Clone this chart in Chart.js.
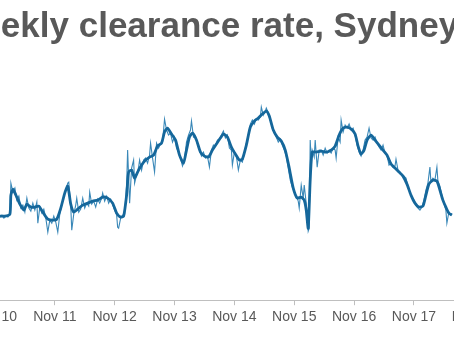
<!DOCTYPE html>
<html>
<head>
<meta charset="utf-8">
<script src="https://cdn.jsdelivr.net/npm/chart.js@4/dist/chart.umd.min.js"></script>
<style>
  html, body { margin: 0; padding: 0; background: #ffffff; overflow: hidden; width: 454px; height: 341px; }
  #wrap { position: absolute; left: -60px; top: 0; width: 560px; height: 341px; }
</style>
</head>
<body>
<div id="wrap"><canvas id="c" width="560" height="341"></canvas></div>
<script>
// Title
const titleText = 'Weekly clearance rate, Sydney';

// Tick positions (months since Nov 2010) and labels
const tickMonths = [0, 12, 24, 36, 48, 60, 72, 84, 96];
const tickLabels = ['Nov 10', 'Nov 11', 'Nov 12', 'Nov 13', 'Nov 14', 'Nov 15', 'Nov 16', 'Nov 17', 'Nov 18'];

// Weekly clearance rate (%), x = months since Nov 2010
const weeklyMonths = [1,1.4,1.8,2.2,2.6,3,3.2,3.6,4,4.4,4.8,5.2,5.6,6,6.4,6.8,7.2,7.6,8,8.4,8.6,9,9.4,9.8,10.2,10.6,11,11.4,11.8,12.2,12.6,13,13.4,13.8,14.2,14.6,14.8,15.2,15.4,15.8,16.2,16.4,16.8,17.2,17.6,18,18.4,18.8,19,19.4,19.8,20.2,20.6,21,21.4,21.6,22,22.4,22.8,23.2,23.6,24,24.4,24.6,24.8,25.2,25.6,26,26.4,26.6,27,27.4,27.8,28,28.4,28.8,29,29.4,29.8,30.2,30.6,31,31.2,31.6,32,32.4,32.8,33.2,33.6,34,34.4,34.8,35.2,35.6,36,36.4,36.8,37.2,37.6,38,38.4,38.8,39.2,39.4,39.8,40.2,40.6,41,41.4,41.8,42.2,42.6,43,43.4,43.8,44.2,44.6,45,45.4,45.8,46.2,46.6,47,47.4,47.6,48,48.4,48.8,49.2,49.6,50,50.4,50.8,51.2,51.6,52,52.4,52.8,53.2,53.4,53.8,54.2,54.4,54.8,55.2,55.6,56,56.4,56.8,57.2,57.6,58,58.4,58.8,59.2,59.6,60,60.4,60.8,61,61.4,61.8,62,62.4,62.8,63,63.2,63.4,63.6,64,64.2,64.6,65,65.4,65.8,66.2,66.6,67,67.4,67.8,68.2,68.4,68.8,69.2,69.4,69.8,70.2,70.6,71,71.4,71.8,72.2,72.6,73,73.4,73.8,74.2,74.6,75,75.4,75.8,76.2,76.6,77,77.4,77.8,78.2,78.6,79,79.4,79.8,80.2,80.4,80.8,81.2,81.6,82,82.4,82.8,83.2,83.6,84,84.4,84.8,85.2,85.6,86,86.4,86.8,87.2,87.4,87.8,88.2,88.6,88.8,89.2,89.6,90,90.4,90.6,91,91.4,91.6];
const weeklyRate = [56.6,57,56.4,56.8,56.6,57.2,63.4,61.6,62.4,60,60.8,58.4,59,57.6,60.4,58.4,57.8,59.4,58,59.6,55.4,58.6,57.4,58.2,56.4,53.6,56,55.4,56.8,55.6,53.6,57.2,59,60.8,62,63.4,63.6,58.8,54,57.2,59,60.4,57.6,58.2,60.4,58.4,59.4,58.8,61.6,59.2,59.8,58.6,60.2,59.4,60.4,61.4,59.8,60.8,59.4,60.2,59,58,57,54.6,54.4,56.4,57,57.2,63,70,59.4,66.4,68,63.4,65,66.6,68,66,68,68.4,67.4,69,71.4,68.4,65.6,71.4,70.4,71.2,71.6,76.2,74,73,73.4,71.6,72.6,70.4,69.6,68.4,66.8,68,71.6,73,74,75.8,72.6,72.8,71.2,70,68.8,69.6,68.4,68.8,66.6,70,71,70.8,72,72.2,73,73.8,72.4,73,70.4,70,67,69.6,68.8,66,68,67.6,69.4,71.4,73,75.2,76,75.2,76.2,76,76.6,78.6,77,77.8,78.4,77.4,76,74.4,73.4,72.6,71.6,72.2,71,70,68.8,66.4,64,62.6,61.6,60.8,59.8,58.4,63,60.4,63,59.4,53.8,54.4,72,68,70,68.6,72,66.6,70,70,69,70.4,69.4,70,69.4,70.4,70,68.4,72.6,71.6,76,73.6,75,74.4,75.2,74,74.4,73,71,69.6,68.8,70,72,72.6,74.4,72.4,72,72.6,71.4,70.6,70,71,69.4,69,67,67.4,66.6,66.8,68.2,66,65.6,65,64.8,64.4,62.8,61.6,60.6,60,59,58.4,58,58.6,60,62,63.4,66.6,63.6,64.4,64,66.6,63.8,62.8,61,59.4,58,55.4,57.6,57,57.4];

// Smoothed trend (%)
const trendMonths = [1,2,3,3.2,3.6,4.2,5,5.8,6.4,7.2,8,8.8,9.6,10.6,11.6,12.4,13.2,14,14.6,15.2,15.8,16.6,17.6,18.6,19.6,20.6,21.6,22.6,23.6,24.4,25.2,25.8,26.4,26.8,27.4,28,28.6,29.4,30.2,31,31.8,32.6,33.4,34,34.6,35.4,36.2,37,37.8,38.4,39,39.6,40.4,41.2,42,42.8,43.6,44.4,45.2,45.8,46.6,47.4,48.2,49,49.6,50.4,51.2,52,52.8,53.6,54.4,55,55.8,56.6,57.4,58.2,59,59.8,60.6,61.4,62,62.4,62.8,63.2,63.6,64.4,65.4,66.4,67.4,68.2,69,69.8,70.6,71.4,72.2,72.8,73.4,74,74.6,75.4,76.2,77,77.8,78.6,79.4,80.2,81,81.8,82.6,83.4,84.2,85,85.8,86.4,87,87.8,88.6,89.2,89.8,90.4,91,91.6];
const trendRate = [56.8,56.8,57.2,61,62.2,61,59.2,58,59.2,58.6,58.6,58.8,57.6,56.2,56,56.2,58.4,61.4,62.8,59.2,57.6,58.2,59,59.4,59.8,60,60.6,60.4,59.4,57.4,56.6,56.8,61,65.6,66,64.4,65.6,67,68,68.6,69,70.8,71.4,73.6,74.4,73.2,72,69,67.4,70,72.6,73.4,72,69.6,68.8,68.6,70,71.2,72.4,73.2,72.6,70.6,69.2,68,68.2,71,74.6,75.8,76.4,77.2,77.8,76.8,74,72.6,71.8,70,66.4,62.4,60.4,60.6,60,58,54.4,64,69.6,69.6,69.8,69.6,70,70.8,73,74.4,74.6,74.2,73.2,70.8,69.2,70,72,73,72,71,70,69,67.2,66.4,65.6,64.8,63.2,61,59.4,58.6,58.8,61,63.2,64,63.8,62,60,58.6,57.4,57];

const toPoints = (xs, ys) => xs.map((x, i) => ({ x: x, y: ys[i] }));

const titlePlugin = {
  id: 'titleText',
  afterDraw(chart) {
    const ctx = chart.ctx;
    ctx.save();
    ctx.font = 'bold 35px "Liberation Sans", Arial, sans-serif';
    ctx.fillStyle = '#595959';
    ctx.textBaseline = 'alphabetic';
    ctx.textAlign = 'left';
    ctx.fillText(titleText, 9, 37);
    ctx.restore();
  }
};

new Chart(document.getElementById('c'), {
  type: 'line',
  data: {
    datasets: [
      {
        label: 'Trend',
        data: toPoints(trendMonths, trendRate),
        borderColor: '#15679b',
        borderWidth: 2.8,
        pointRadius: 0,
        tension: 0.2,
        fill: false
      },
      {
        label: 'Weekly',
        data: toPoints(weeklyMonths, weeklyRate),
        borderColor: '#3a88b8',
        borderWidth: 1.1,
        pointRadius: 0,
        tension: 0,
        fill: false
      }
    ]
  },
  options: {
    responsive: false,
    animation: false,
    devicePixelRatio: 1,
    layout: { padding: { left: 25, right: 25, top: 50, bottom: 11 } },
    plugins: { legend: { display: false }, tooltip: { enabled: false }, title: { display: false } },
    scales: {
      x: {
        type: 'linear',
        min: -6,
        max: 96,
        afterBuildTicks: (scale) => { scale.ticks = tickMonths.map(v => ({ value: v })); },
        ticks: {
          autoSkip: false,
          maxRotation: 0,
          padding: 4,
          color: '#595959',
          font: { family: '"Liberation Sans", Arial, sans-serif', size: 14 },
          callback: (value) => tickLabels[tickMonths.indexOf(value)]
        },
        grid: { drawOnChartArea: false, drawTicks: true, tickLength: 5, color: '#bfbfbf' },
        border: { display: true, color: '#bfbfbf', width: 1 }
      },
      y: {
        display: false,
        min: 40,
        max: 90
      }
    }
  },
  plugins: [titlePlugin]
});
</script>
</body>
</html>
